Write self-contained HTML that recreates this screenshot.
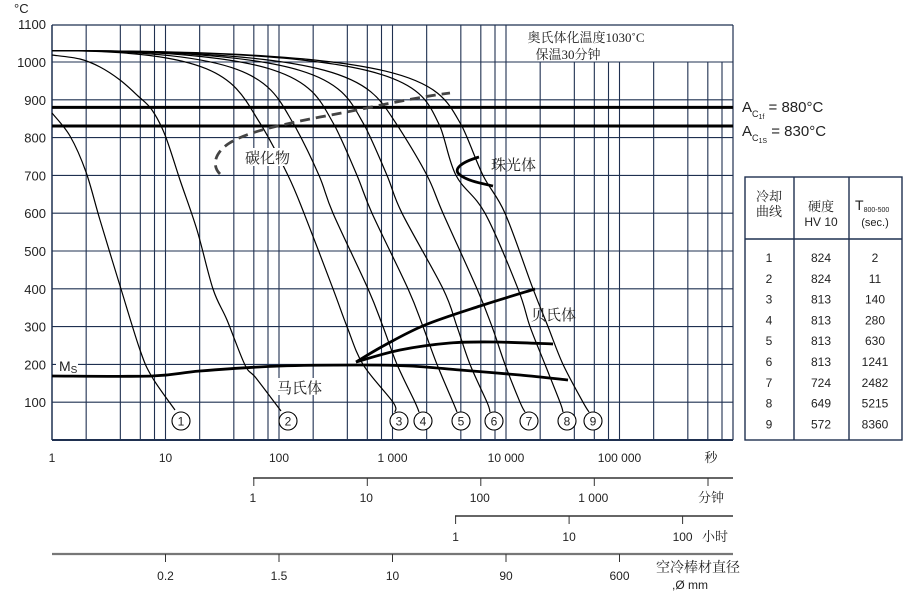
<!DOCTYPE html>
<html><head><meta charset="utf-8"><style>
body{margin:0;background:#fff;width:922px;height:600px;overflow:hidden}
svg{display:block}
text{font-family:"Liberation Sans","Noto Sans CJK SC",sans-serif;fill:#222}
.s{font-family:"Liberation Serif","Noto Serif CJK SC",serif}
</style></head><body>
<svg id="g" width="922" height="600" viewBox="0 0 922 600" xmlns="http://www.w3.org/2000/svg">
<g id="grid" stroke="#1f3050" stroke-width="1.1"></g>
<rect x="507" y="25.5" width="226" height="36" fill="#fff"/>
<line x1="52" y1="25" x2="733" y2="25" stroke="#1f3050" stroke-width="1.2"/>
<line x1="733" y1="25" x2="733" y2="440" stroke="#1f3050" stroke-width="1.2"/>
<line x1="52" y1="25" x2="52" y2="440" stroke="#1f3050" stroke-width="1.5"/>
<line x1="52" y1="440" x2="733" y2="440" stroke="#1f3050" stroke-width="2"/>
<text class="s" x="586" y="42" font-size="13" text-anchor="middle">奥氏体化温度1030˚C</text>
<text class="s" x="568" y="59" font-size="13" text-anchor="middle">保温30分钟</text>
<line x1="52" y1="107.4" x2="733" y2="107.4" stroke="#000" stroke-width="3"/>
<line x1="52" y1="126" x2="733" y2="126" stroke="#000" stroke-width="3"/>
<g id="curves" fill="none" stroke="#000" stroke-width="1.2"></g>
<g id="thick" fill="none" stroke="#000" stroke-width="2.8"></g>
<path d="M220,174 C212,166 214,154 228,144 C245,133 270,127 320,117 C370,108 410,98 450,93" fill="none" stroke="#444" stroke-width="2.8" stroke-dasharray="10,6"/>
<rect x="244" y="148" width="50" height="18" fill="#fff"/>
<text class="s" x="245" y="163" font-size="15">碳化物</text>
<text class="s" x="491" y="170" font-size="15">珠光体</text>
<text class="s" x="531" y="320" font-size="15">贝氏体</text>
<rect x="276" y="378" width="50" height="17" fill="#fff"/>
<text class="s" x="277" y="393" font-size="15">马氏体</text>
<rect x="56" y="357" width="22" height="16" fill="#fff"/>
<text x="59" y="371" font-size="14">M<tspan font-size="10" dy="2">S</tspan></text>
<g id="circ"></g>
<g id="ylab" font-size="13" text-anchor="end"></g>
<text x="14" y="13" font-size="13">°C</text>
<text x="742" y="112" font-size="15">A<tspan font-size="9" dy="5">C</tspan><tspan font-size="7" dy="2">1f</tspan><tspan dy="-7" font-size="15"> = 880°C</tspan></text>
<text x="742" y="136" font-size="15">A<tspan font-size="9" dy="5">C</tspan><tspan font-size="7" dy="2">1S</tspan><tspan dy="-7" font-size="15"> = 830°C</tspan></text>
<g stroke="#1f3050" stroke-width="1.4" fill="none">
<rect x="745" y="177" width="157" height="263"/>
<line x1="794" y1="177" x2="794" y2="440"/><line x1="849" y1="177" x2="849" y2="440"/>
<line x1="745" y1="239" x2="902" y2="239"/>
</g>
<text class="s" x="769" y="201" font-size="13" text-anchor="middle">冷却</text>
<text class="s" x="769" y="216" font-size="13" text-anchor="middle">曲线</text>
<text class="s" x="821" y="211" font-size="13" text-anchor="middle">硬度</text>
<text x="821" y="226" font-size="12" text-anchor="middle">HV 10</text>
<text x="855" y="210" font-size="14">T<tspan font-size="7" dy="2">800-500</tspan></text>
<text x="875" y="226" font-size="11" text-anchor="middle">(sec.)</text>
<g id="tab" font-size="12" text-anchor="middle"></g>
<g id="bot" font-size="12" text-anchor="middle"></g>
</svg>
<script>
var NS="http://www.w3.org/2000/svg";
function el(p,t,a,txt){var e=document.createElementNS(NS,t);for(var k in a)e.setAttribute(k,a[k]);if(txt!=null)e.textContent=txt;document.getElementById(p).appendChild(e);return e;}
function X(t){return 52+113.5*Math.log10(t);}
for(var d=0;d<6;d++){[1,2,4,6,8].forEach(function(m){var x=X(m*Math.pow(10,d));if(d==0&&m==1)return;var y1=(x>507?62:25);el("grid","line",{x1:x,y1:y1,x2:x,y2:440});});}
for(var T=100;T<=1000;T+=100){var y=440-T*0.378;el("grid","line",{x1:52,y1:y,x2:733,y2:y});}
for(var T=100;T<=1100;T+=100){el("ylab","text",{x:46,y:440-T*0.378+5},T);}
function seg(p,start){var s="";for(var i=start;i<p.length-1;i++){var p0=p[i-1]||p[i],p1=p[i],p2=p[i+1],p3=p[i+2]||p2;var c1=[p1[0]+(p2[0]-p0[0])/6,p1[1]+(p2[1]-p0[1])/6],c2=[p2[0]-(p3[0]-p1[0])/6,p2[1]-(p3[1]-p1[1])/6];s+=" C"+c1+" "+c2+" "+p2;}return s;}
function cr(p){return "M"+p[0][0]+","+p[0][1]+seg(p,0);}
function Y(T){return 440-T*0.378;}
var C=[
[[52,113],[70,136],[86,172],[100,220],[121,289],[140,350],[152,377],[175,410]],
[[52,55],[80,59],[100,67],[120,80],[138,96],[152,110],[165,135],[180,180],[197,230],[213,289],[227,320],[245,365],[256,378],[281,411]]];
C.forEach(function(p){el("curves","path",{d:cr(p)});});
var K=[[200,243,262,288,304,333,347,363,393,395],[238,277,295,319,333,368,383,397,415,419],[268,317,335,357,372,408,423,437,453,457],[290,347,365,387,402,443,457,470,487,490],[320,380,398,427,443,477,492,505,520,525],[360,422,440,456,485,518,530,545,560,563],[372,443,462,483,505,533,548,563,583,589]];
var Ts=[1000,880,830,700,600,400,300,200,100];
var y0=Y(1030);
function bz(a,b,c,d,t){var u=1-t;return u*u*u*a+3*u*u*t*b+3*u*t*t*c+t*t*t*d;}
K.forEach(function(k){
 var P3=[k[2],Y(830)],ux=(k[3]-k[1])/(Y(700)-Y(880)),h=0.55*(P3[1]-y0);
 var P2=[P3[0]-ux*h,P3[1]-h];
 var lo=52,hi=P2[0];
 for(var it=0;it<40;it++){var m=(lo+hi)/2;
  var tl=0,th=1;for(var j=0;j<40;j++){var t=(tl+th)/2;if(bz(y0,y0,P2[1],P3[1],t)<Y(1000))tl=t;else th=t;}
  var xx=bz(52,m,P2[0],P3[0],tl);if(xx<k[0])lo=m;else hi=m;}
 var P1x=(lo+hi)/2;
 var d="M52,"+y0+" C"+P1x+","+y0+" "+P2+" "+P3;
 var p=[P2,P3];for(var i=3;i<9;i++)p.push([k[i],Y(Ts[i])]);p.push([k[9],412]);
 d+=seg(p,1);
 el("curves","path",{d:d});});
el("thick","path",{d:cr([[52,376],[152,376],[200,371],[280,366],[360,365],[410,366],[460,370],[520,375],[568,380]])});
el("thick","path",{d:cr([[356,362],[385,345],[425,325],[480,306],[535,289]])});
el("thick","path",{d:cr([[356,362],[400,350],[450,343],[495,342],[553,344]])});
el("thick","path",{d:"M479,157 C462,162 452,169 460,175 C468,181 480,183 493,186"});
var cx=[181,288,399,423,461,494,529,567,593];
cx.forEach(function(x,i){el("circ","circle",{cx:x,cy:421,r:9,fill:"#fff",stroke:"#000","stroke-width":1.1});el("circ","text",{x:x,y:425.5,"font-size":12,"text-anchor":"middle"},i+1);});
var hv=[824,824,813,813,813,813,724,649,572],tt=[2,11,140,280,630,1241,2482,5215,8360];
for(var i=0;i<9;i++){var y=262+i*20.8;el("tab","text",{x:769,y:y},i+1);el("tab","text",{x:821,y:y},hv[i]);el("tab","text",{x:875,y:y},tt[i]);}
var b="bot";
["1","10","100","1 000","10 000","100 000"].forEach(function(s,i){el(b,"text",{x:52+113.5*i,y:462},s);});
el(b,"text",{x:711,y:462,"class":"s","font-size":13},"秒");
el(b,"line",{x1:253,y1:478,x2:733,y2:478,stroke:"#333","stroke-width":1.5});
["1","10","100","1 000"].forEach(function(s,i){var x=253.8+113.5*i;el(b,"line",{x1:x,y1:478,x2:x,y2:486,stroke:"#333"});el(b,"text",{x:x-1,y:502},s);});
el(b,"line",{x1:708,y1:478,x2:708,y2:486,stroke:"#333"});
el(b,"text",{x:711,y:502,"class":"s","font-size":13},"分钟");
el(b,"line",{x1:455,y1:516,x2:733,y2:516,stroke:"#333","stroke-width":1.5});
["1","10","100"].forEach(function(s,i){var x=455.6+113.5*i;el(b,"line",{x1:x,y1:516,x2:x,y2:524,stroke:"#333"});el(b,"text",{x:x,y:541},s);});
el(b,"text",{x:715,y:541,"class":"s","font-size":13},"小时");
el(b,"line",{x1:52,y1:554,x2:733,y2:554,stroke:"#777","stroke-width":2.2});
["0.2","1.5","10","90","600"].forEach(function(s,i){var x=165.5+113.5*i;el(b,"line",{x1:x,y1:554,x2:x,y2:562,stroke:"#333"});el(b,"text",{x:x,y:580},s);});
el(b,"text",{x:698,y:572,"class":"s","font-size":14},"空冷棒材直径");
el(b,"text",{x:690,y:589,"font-size":12},",Ø mm");
</script>
</body></html>
